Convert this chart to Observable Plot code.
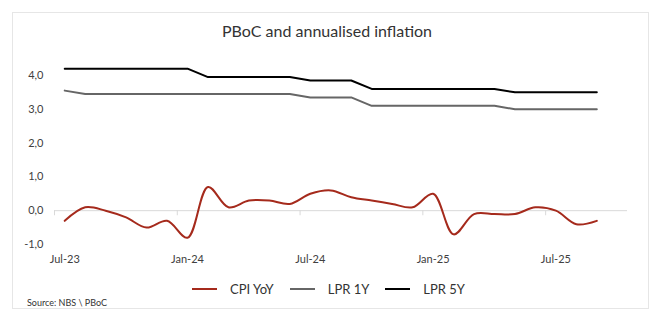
<!DOCTYPE html>
<html>
<head>
<meta charset="utf-8">
<script src="https://cdn.jsdelivr.net/npm/d3@7"></script>
<script src="https://cdn.jsdelivr.net/npm/@observablehq/plot@0.6"></script>
<style>
  html, body { margin: 0; padding: 0; background: #fff; }
  body { width: 664px; height: 332px; position: relative; overflow: hidden; font-family: Lato, "Noto Sans", sans-serif; }
  #box { position: absolute; left: 12px; top: 12px; width: 637px; height: 297px; border: 1px solid #e6e6e6; box-sizing: border-box; }
  #title { position: absolute; left: 0; width: 654px; top: 21px; text-align: center; font-size: 16px; color: #333; }
  #chart { position: absolute; left: 0; top: 50px; }
  #legend { position: absolute; top: 281px; left: 0; width: 657px; display: flex; justify-content: center; font-size: 13px; color: #333; }
  .item { display: flex; align-items: center; margin: 0 8px; }
  .sw { width: 25px; height: 2.5px; margin-right: 13px; }
  #source { position: absolute; left: 27px; top: 297px; font-size: 9px; color: #333; }
</style>
</head>
<body>
<div id="box"></div>
<div id="title">PBoC and annualised inflation</div>
<div id="chart"></div>
<div id="legend"></div>
<div id="source">Source: NBS \ PBoC</div>
<script>
const months = ["Jul-23","Aug-23","Sep-23","Oct-23","Nov-23","Dec-23","Jan-24","Feb-24","Mar-24","Apr-24","May-24","Jun-24",
  "Jul-24","Aug-24","Sep-24","Oct-24","Nov-24","Dec-24","Jan-25","Feb-25","Mar-25","Apr-25","May-25","Jun-25","Jul-25","Aug-25","Sep-25"];
const cpiYoY = [-0.3, 0.1, 0.0, -0.2, -0.5, -0.3, -0.8, 0.7, 0.1, 0.3, 0.3, 0.2,
  0.5, 0.6, 0.4, 0.3, 0.2, 0.1, 0.5, -0.7, -0.1, -0.1, -0.1, 0.1, 0.0, -0.4, -0.3];
const lpr1Y = [3.55, 3.45, 3.45, 3.45, 3.45, 3.45, 3.45, 3.45, 3.45, 3.45, 3.45, 3.45,
  3.35, 3.35, 3.35, 3.10, 3.10, 3.10, 3.10, 3.10, 3.10, 3.10, 3.00, 3.00, 3.00, 3.00, 3.00];
const lpr5Y = [4.20, 4.20, 4.20, 4.20, 4.20, 4.20, 4.20, 3.95, 3.95, 3.95, 3.95, 3.95,
  3.85, 3.85, 3.85, 3.60, 3.60, 3.60, 3.60, 3.60, 3.60, 3.60, 3.50, 3.50, 3.50, 3.50, 3.50];
const xTickLabels = ["Jul-23","Jan-24","Jul-24","Jan-25","Jul-25"];
const yTicks = [-1, 0, 1, 2, 3, 4];
const seriesNames = ["CPI YoY", "LPR 1Y", "LPR 5Y"];
const seriesColors = ["#a52a1c", "#666666", "#000000"];

const toRows = vals => vals.map((v, i) => ({i, v}));
const xTicks = xTickLabels.map(l => months.indexOf(l));
const boundaries = xTicks.map(i => i - 0.5);

const chart = Plot.plot({
  width: 664,
  height: 225,
  marginLeft: 54,
  marginRight: 37,
  marginTop: 8,
  marginBottom: 31,
  style: {fontFamily: "Lato, sans-serif", fontSize: "11px", color: "#404040", background: "transparent"},
  x: {domain: [-0.5, months.length + 0.5]},
  y: {domain: [-1, 4.5]},
  marks: [
    Plot.ruleY([0], {stroke: "#d9d9d9", strokeWidth: 1}),
    Plot.ruleX(boundaries, {y1: 0, y2: -0.15, stroke: "#d9d9d9"}),
    Plot.axisX({ticks: xTicks, tickSize: 0, tickPadding: 11, tickFormat: i => months[i], fontSize: 11, label: null}),
    Plot.axisY({ticks: yTicks, tickSize: 0, tickPadding: 11, tickFormat: d => d.toFixed(1).replace(".", ","), fontSize: 11, label: null}),
    Plot.line(toRows(lpr1Y), {x: "i", y: "v", stroke: seriesColors[1], strokeWidth: 2}),
    Plot.line(toRows(lpr5Y), {x: "i", y: "v", stroke: seriesColors[2], strokeWidth: 2}),
    Plot.line(toRows(cpiYoY), {x: "i", y: "v", stroke: seriesColors[0], strokeWidth: 2, curve: "catmull-rom"})
  ]
});
document.getElementById("chart").appendChild(chart);

const legend = document.getElementById("legend");
seriesNames.forEach((n, k) => {
  const it = document.createElement("div");
  it.className = "item";
  it.innerHTML = `<div class="sw" style="background:${seriesColors[k]}"></div><span>${n}</span>`;
  legend.appendChild(it);
});
</script>
</body>
</html>
